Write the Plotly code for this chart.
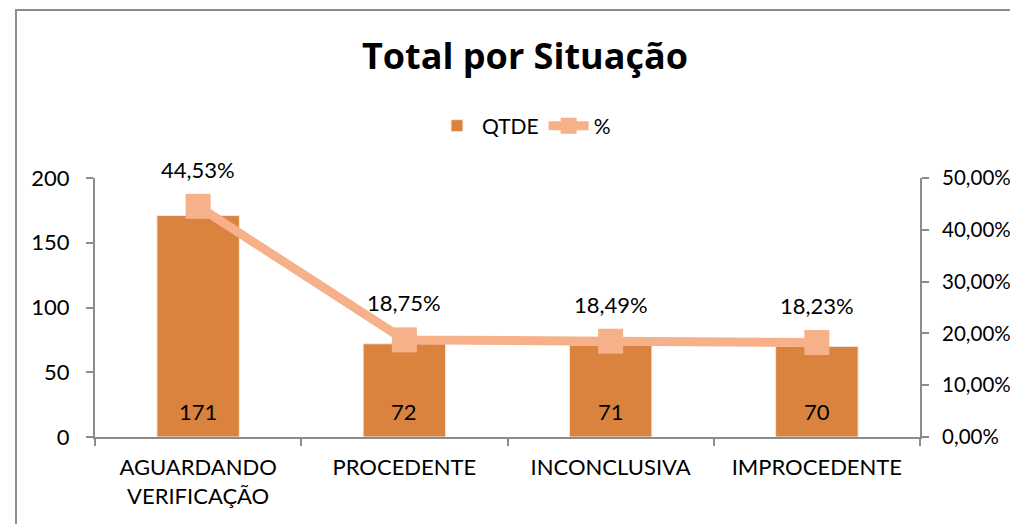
import plotly.graph_objects as go

categories = ["AGUARDANDO<br>VERIFICAÇÃO", "PROCEDENTE", "INCONCLUSIVA", "IMPROCEDENTE"]
qtde = [171, 72, 71, 70]
pct = [0.4453, 0.1875, 0.1849, 0.1823]
pct_labels = ["44,53%", "18,75%", "18,49%", "18,23%"]

BAR = "#D9833E"
LINE = "#F6B08A"
FONT = "Lato"
AXIS = "#8C8C8C"

# page body has an 8px margin: figure drawn at (8,8)
W, H = 1010, 516
L, T = 87, 170
PW, PH = 825, 259

fig = go.Figure()
fig.add_trace(go.Bar(
    x=categories, y=qtde, name="QTDE",
    marker=dict(color=BAR, line=dict(color="#EDEDED", width=1)),
    width=0.4,
))
fig.add_trace(go.Scatter(
    x=categories, y=pct, name="%", yaxis="y2",
    mode="lines+markers",
    line=dict(color=LINE, width=9),
    marker=dict(symbol="square", size=25, color=LINE),
))
for c, v in zip(categories, qtde):
    fig.add_annotation(x=c, y=0, text=str(v), showarrow=False, yshift=26,
                       font=dict(family=FONT, size=22, color="#000000"))
for c, p, t in zip(categories, pct, pct_labels):
    fig.add_annotation(x=c, y=p, yref="y2", text=t, showarrow=False,
                       yshift=37, font=dict(family=FONT, size=22, color="#000000"))

fig.update_layout(
    width=W, height=H,
    margin=dict(l=L, r=W - L - PW, t=T, b=H - T - PH, autoexpand=False),
    paper_bgcolor="white", plot_bgcolor="white",
    separators=",.",
    title=dict(text="<b>Total por Situação</b>", x=(525 - 8) / W, xanchor="center",
               y=1 - 48 / H, yanchor="middle",
               font=dict(family="Open Sans", size=36, color="#000000")),
    legend=dict(orientation="h", x=0.52, xanchor="center", y=1 + (T - 118) / PH,
                yanchor="middle", font=dict(family=FONT, size=21, color="#000000"),
                itemwidth=40),
    showlegend=True,
    xaxis=dict(showline=True, linecolor=AXIS, linewidth=2, ticks="outside",
               tickson="boundaries", ticklen=7, tickcolor=AXIS, tickwidth=2,
               ticklabelstandoff=10,
               tickfont=dict(family=FONT, size=22, color="#000000"), showgrid=False),
    yaxis=dict(range=[0, 200], tickvals=[0, 50, 100, 150, 200], showline=True,
               linecolor=AXIS, linewidth=2, ticks="outside", ticklen=7, tickcolor=AXIS,
               tickwidth=2, ticklabelstandoff=12,
               tickfont=dict(family=FONT, size=22, color="#000000"),
               showgrid=False, zeroline=False),
    yaxis2=dict(range=[0, 0.5], tickvals=[0, 0.1, 0.2, 0.3, 0.4, 0.5], tickformat=".2%",
                overlaying="y", side="right", showline=True, linecolor=AXIS, linewidth=2,
                ticks="outside", ticklen=7, tickcolor=AXIS, tickwidth=2,
                ticklabelstandoff=9,
                tickfont=dict(family=FONT, size=20.5, color="#000000"),
                showgrid=False, zeroline=False),
)
# chart border (Excel chart area frame)
fig.add_shape(type="rect", xref="paper", yref="paper",
              x0=(8 - L) / PW, x1=1.3, y0=-0.6, y1=1 + (T - 2) / PH,
              line=dict(color="#8C8C8C", width=2), layer="below")

fig.write_html("out.html")
